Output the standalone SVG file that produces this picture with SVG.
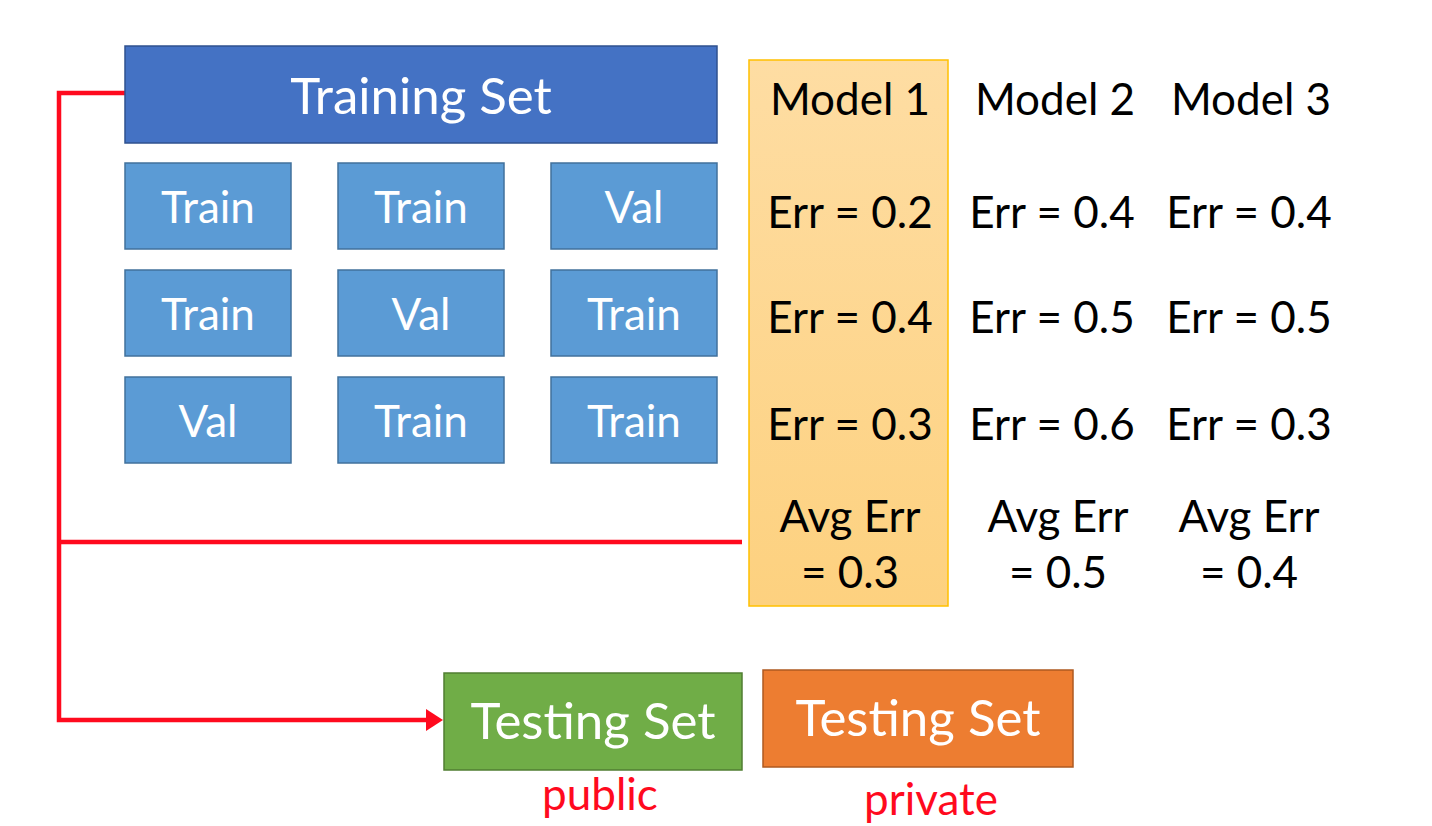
<svg xmlns="http://www.w3.org/2000/svg" width="1432" height="826" viewBox="0 0 1432 826">
<defs>
<linearGradient id="og" x1="0" y1="0" x2="0" y2="1">
<stop offset="0" stop-color="#FEDDA3"/>
<stop offset="1" stop-color="#FDD17F"/>
</linearGradient>
<style>
text{font-family:Lato,"Liberation Sans",sans-serif;text-anchor:middle}
.big{fill:#4472C4;stroke:#2F528F;stroke-width:1.5}
.sm{fill:#5B9BD5;stroke:#41719C;stroke-width:1.5}
.wt{fill:#fff;font-size:44px}
.bt{fill:#000;font-size:44px}
.ts{fill:#fff;font-size:51px}
.red{fill:#FF0A1E;font-size:44px}
.ln{fill:none;stroke:#FF0A1E;stroke-width:4.5}
</style>
</defs>
<rect width="1432" height="826" fill="#fff"/>
<g id="connectors">
<polyline class="ln" points="125,93 59,93 59,720 426,720"/>
<line class="ln" x1="59" y1="542" x2="742" y2="542"/>
<path d="M426,709 L443,720 L426,731 Z" fill="#FF0A1E"/>
</g>
<g id="training-set">
<rect class="big" x="125" y="46" width="592" height="97"/>
<text class="ts" x="421" y="114">Training Set</text>
</g>
<g id="fold-1-1"><rect class="sm" x="125" y="163" width="166" height="86"/><text class="wt" x="208" y="223">Train</text></g>
<g id="fold-1-2"><rect class="sm" x="338" y="163" width="166" height="86"/><text class="wt" x="421" y="223">Train</text></g>
<g id="fold-1-3"><rect class="sm" x="551" y="163" width="166" height="86"/><text class="wt" x="634" y="223">Val</text></g>
<g id="fold-2-1"><rect class="sm" x="125" y="270" width="166" height="86"/><text class="wt" x="208" y="330">Train</text></g>
<g id="fold-2-2"><rect class="sm" x="338" y="270" width="166" height="86"/><text class="wt" x="421" y="330">Val</text></g>
<g id="fold-2-3"><rect class="sm" x="551" y="270" width="166" height="86"/><text class="wt" x="634" y="330">Train</text></g>
<g id="fold-3-1"><rect class="sm" x="125" y="377" width="166" height="86"/><text class="wt" x="208" y="437">Val</text></g>
<g id="fold-3-2"><rect class="sm" x="338" y="377" width="166" height="86"/><text class="wt" x="421" y="437">Train</text></g>
<g id="fold-3-3"><rect class="sm" x="551" y="377" width="166" height="86"/><text class="wt" x="634" y="437">Train</text></g>
<g id="model-1">
<rect x="749" y="60" width="199" height="546" fill="url(#og)" stroke="#FFC000" stroke-width="1.5"/>
<text class="bt" x="850" y="115">Model 1</text>
<text class="bt" x="850" y="228">Err = 0.2</text>
<text class="bt" x="850" y="333">Err = 0.4</text>
<text class="bt" x="850" y="440">Err = 0.3</text>
<text class="bt" x="850" y="532">Avg Err</text>
<text class="bt" x="850" y="588">= 0.3</text>
</g>
<g id="model-2">
<text class="bt" x="1055" y="115">Model 2</text>
<text class="bt" x="1052" y="228">Err = 0.4</text>
<text class="bt" x="1052" y="333">Err = 0.5</text>
<text class="bt" x="1052" y="440">Err = 0.6</text>
<text class="bt" x="1058" y="532">Avg Err</text>
<text class="bt" x="1058" y="588">= 0.5</text>
</g>
<g id="model-3">
<text class="bt" x="1251" y="115">Model 3</text>
<text class="bt" x="1249" y="228">Err = 0.4</text>
<text class="bt" x="1249" y="333">Err = 0.5</text>
<text class="bt" x="1249" y="440">Err = 0.3</text>
<text class="bt" x="1249" y="532">Avg Err</text>
<text class="bt" x="1249" y="588">= 0.4</text>
</g>
<g id="testing-public">
<rect x="444" y="673" width="298" height="97" fill="#70AD47" stroke="#507E32" stroke-width="1.5"/>
<text class="ts" x="593" y="739">Testing Set</text>
<text class="red" x="600" y="810">public</text>
</g>
<g id="testing-private">
<rect x="763" y="670" width="310" height="97" fill="#ED7D31" stroke="#AE5A21" stroke-width="1.5"/>
<text class="ts" x="918" y="736">Testing Set</text>
<text class="red" x="931" y="815">private</text>
</g>
</svg>
